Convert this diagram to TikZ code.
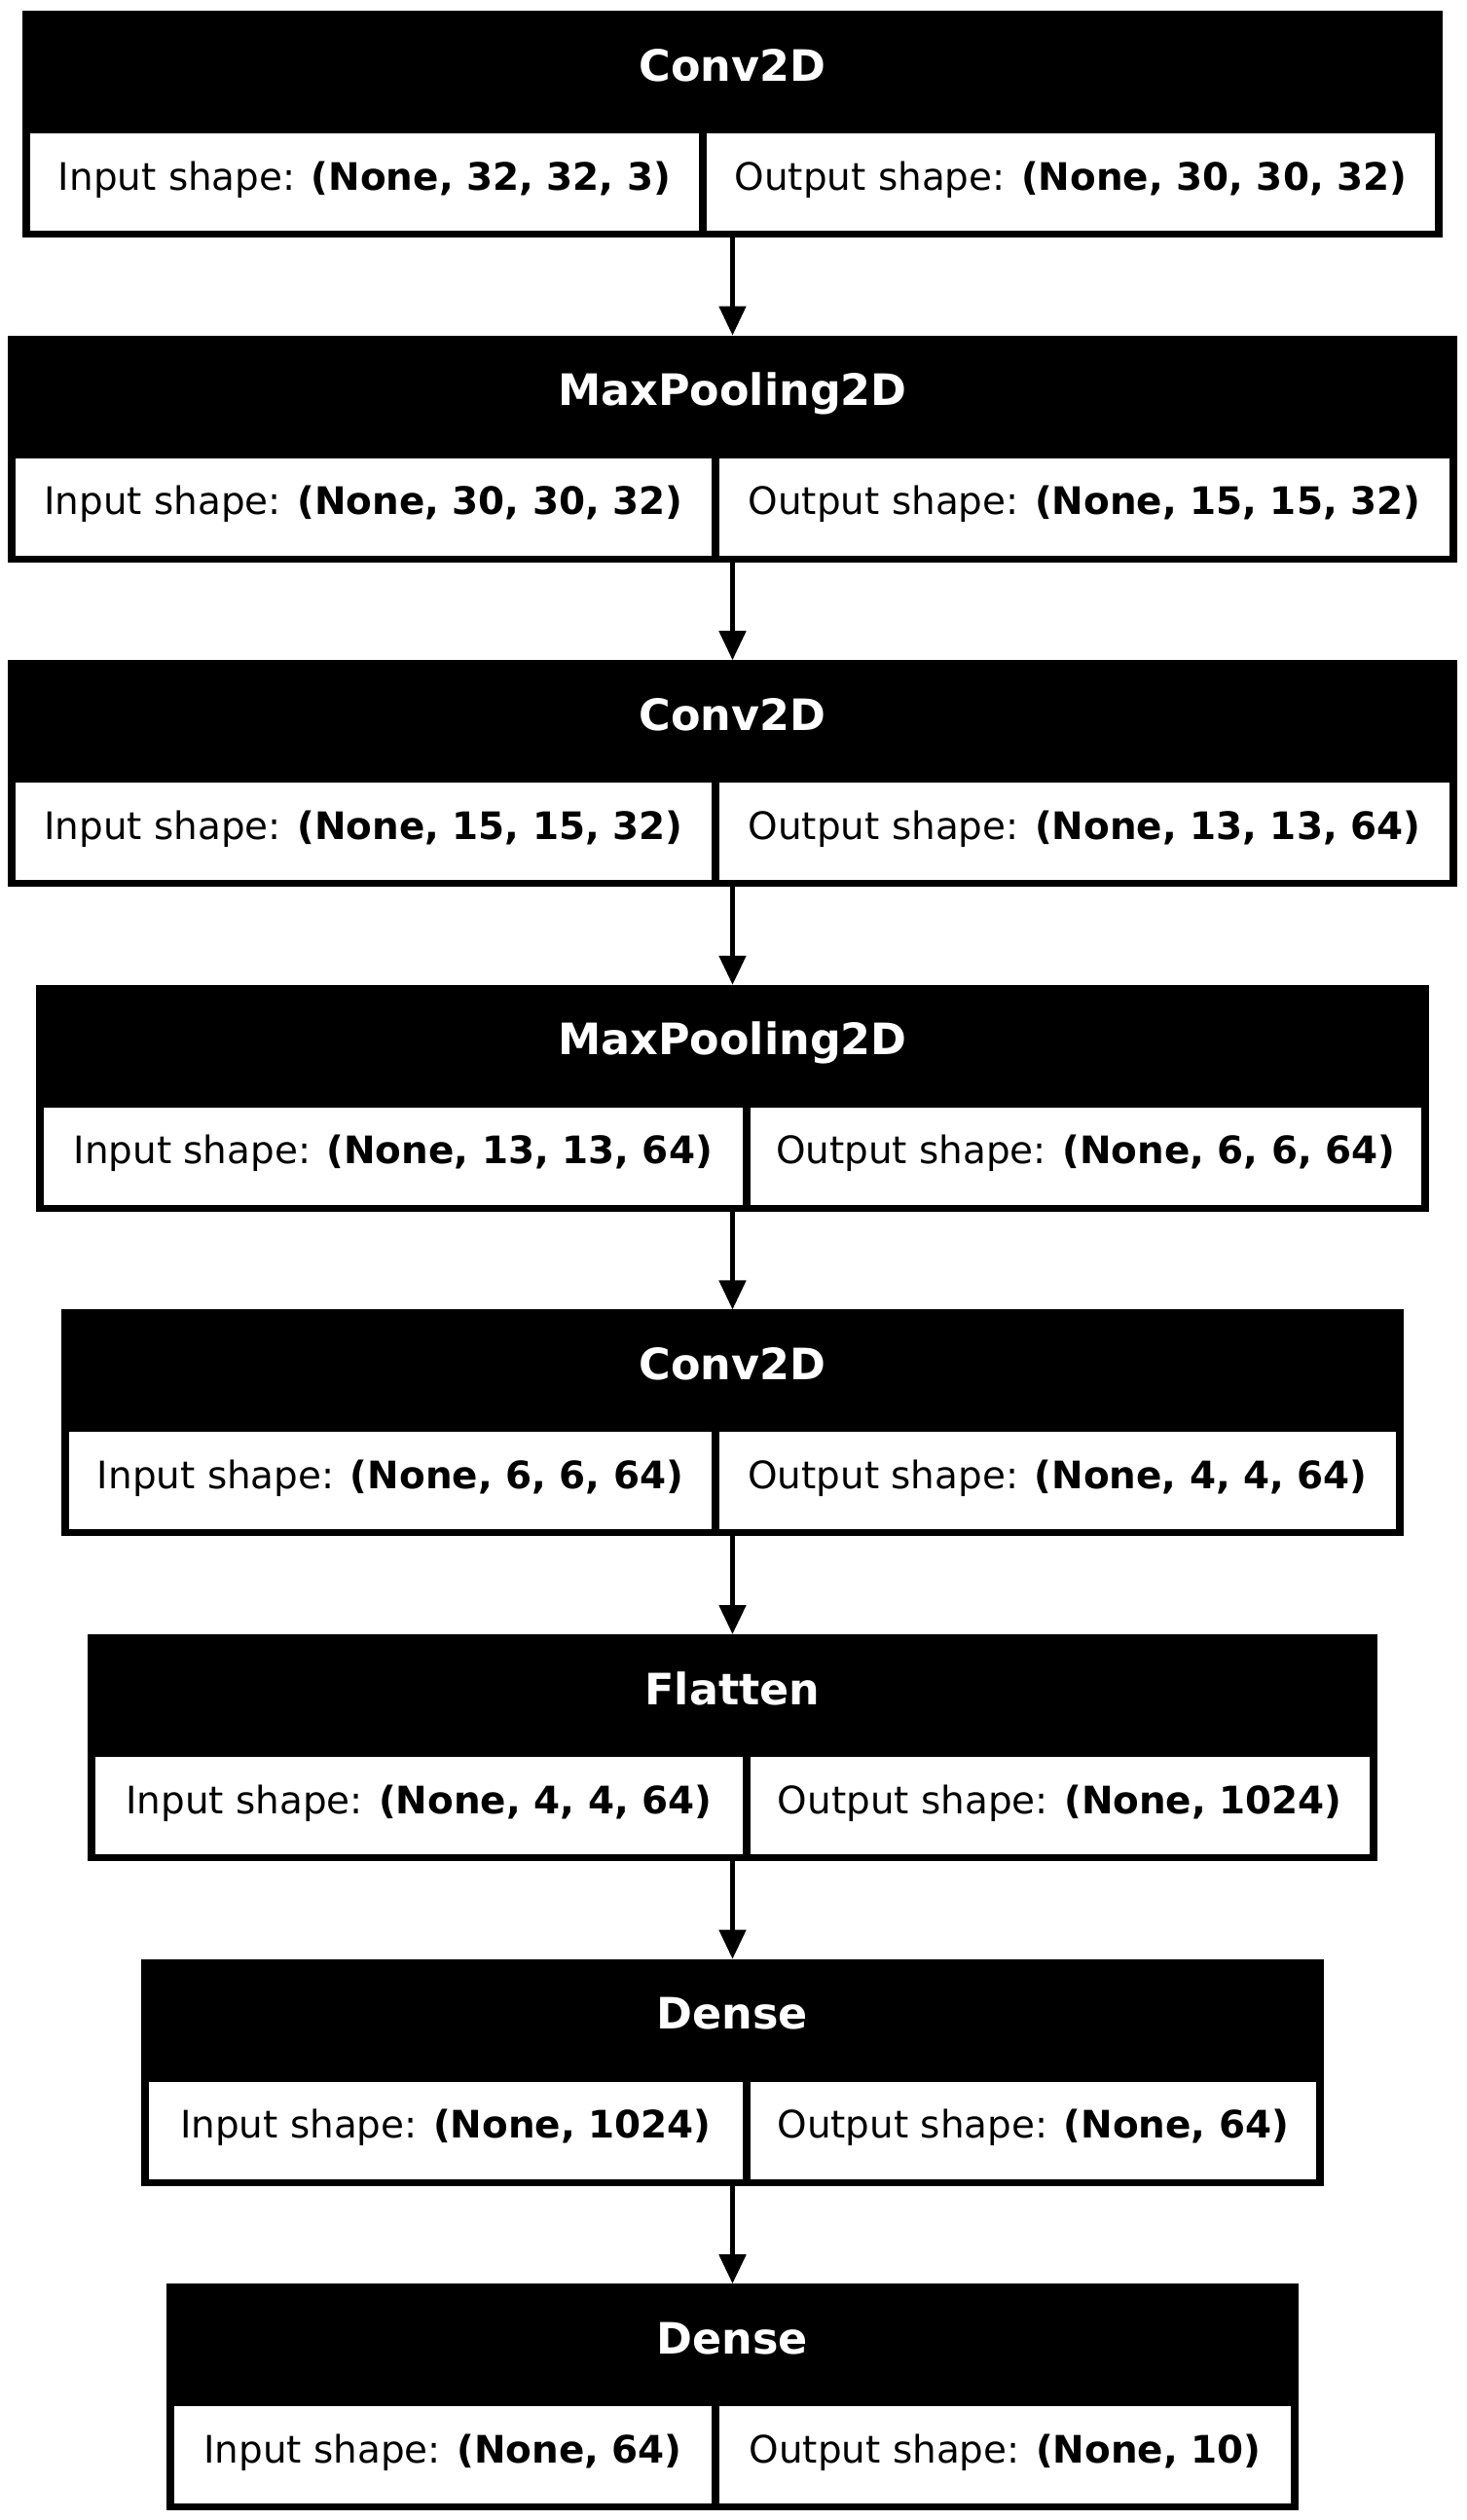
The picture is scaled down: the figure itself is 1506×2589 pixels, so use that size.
\documentclass[tikz,border=0pt]{standalone}
\usepackage{fontspec}
\setmainfont{DejaVu Sans}
\usetikzlibrary{arrows.meta}

% One unit = one pixel at 200 dpi
\tikzset{
  layerframe/.style={fill=black, draw=none, inner sep=0pt, outer sep=0pt, anchor=north west},
  cellbox/.style={fill=white, draw=none, inner sep=0pt, outer sep=0pt, anchor=north west,
                  minimum height={100*0.36pt}},
  headtext/.style={text=white, font=\fontsize{16}{19}\selectfont\bfseries, anchor=base, inner sep=0pt},
  celltext/.style={text=black, font=\fontsize{14}{17}\selectfont, anchor=base, inner sep=0pt},
  conn/.style={line width=1.8pt, -{Triangle[length=10.8pt, width=9.72pt]}},
}

% #1 name, #2 top, #3 left edge, #4 divider x, #5 title, #6 input shape, #7 output shape
\newcommand\kerasLayer[7]{%
  \node[layerframe, minimum width={(1505-2*#3)*0.36pt}, minimum height={233*0.36pt}] (#1) at ({#3},{#2}) {};
  \node[cellbox, minimum width={(#4-4-#3-8)*0.36pt}] (#1-inbox) at ({#3+8},{#2+126}) {};
  \node[cellbox, minimum width={(1505-#3-8-#4-4)*0.36pt}] (#1-outbox) at ({#4+4},{#2+126}) {};
  \node[headtext] (#1-title) at ({752.5},{#2+72}) {#5};
  \node[celltext] (#1-in) at ({(#3+8+#4-4)/2},{#2+184}) {Input shape: \textbf{#6}};
  \node[celltext] (#1-out) at ({(#4+4+1505-#3-8)/2},{#2+184}) {Output shape: \textbf{#7}};
}

\begin{document}
\begin{tikzpicture}[x=0.36pt, y=-0.36pt]
  \fill[white] (0,0) rectangle (1506,2589);
  \useasboundingbox (0,0) rectangle (1506,2589);

  \kerasLayer{l1}{11}{23}{722}{Conv2D}{(None, 32, 32, 3)}{(None, 30, 30, 32)}
  \kerasLayer{l2}{344.6}{8}{735}{MaxPooling2D}{(None, 30, 30, 32)}{(None, 15, 15, 32)}
  \kerasLayer{l3}{678.2}{8}{735}{Conv2D}{(None, 15, 15, 32)}{(None, 13, 13, 64)}
  \kerasLayer{l4}{1011.8}{37}{766.5}{MaxPooling2D}{(None, 13, 13, 64)}{(None, 6, 6, 64)}
  \kerasLayer{l5}{1345.4}{63}{735}{Conv2D}{(None, 6, 6, 64)}{(None, 4, 4, 64)}
  \kerasLayer{l6}{1679}{90}{766.5}{Flatten}{(None, 4, 4, 64)}{(None, 1024)}
  \kerasLayer{l7}{2012.6}{145}{766.5}{Dense}{(None, 1024)}{(None, 64)}
  \kerasLayer{l8}{2346.2}{171}{735}{Dense}{(None, 64)}{(None, 10)}

  \draw[conn] (l1.south) -- (l2.north);
  \draw[conn] (l2.south) -- (l3.north);
  \draw[conn] (l3.south) -- (l4.north);
  \draw[conn] (l4.south) -- (l5.north);
  \draw[conn] (l5.south) -- (l6.north);
  \draw[conn] (l6.south) -- (l7.north);
  \draw[conn] (l7.south) -- (l8.north);
\end{tikzpicture}
\end{document}
